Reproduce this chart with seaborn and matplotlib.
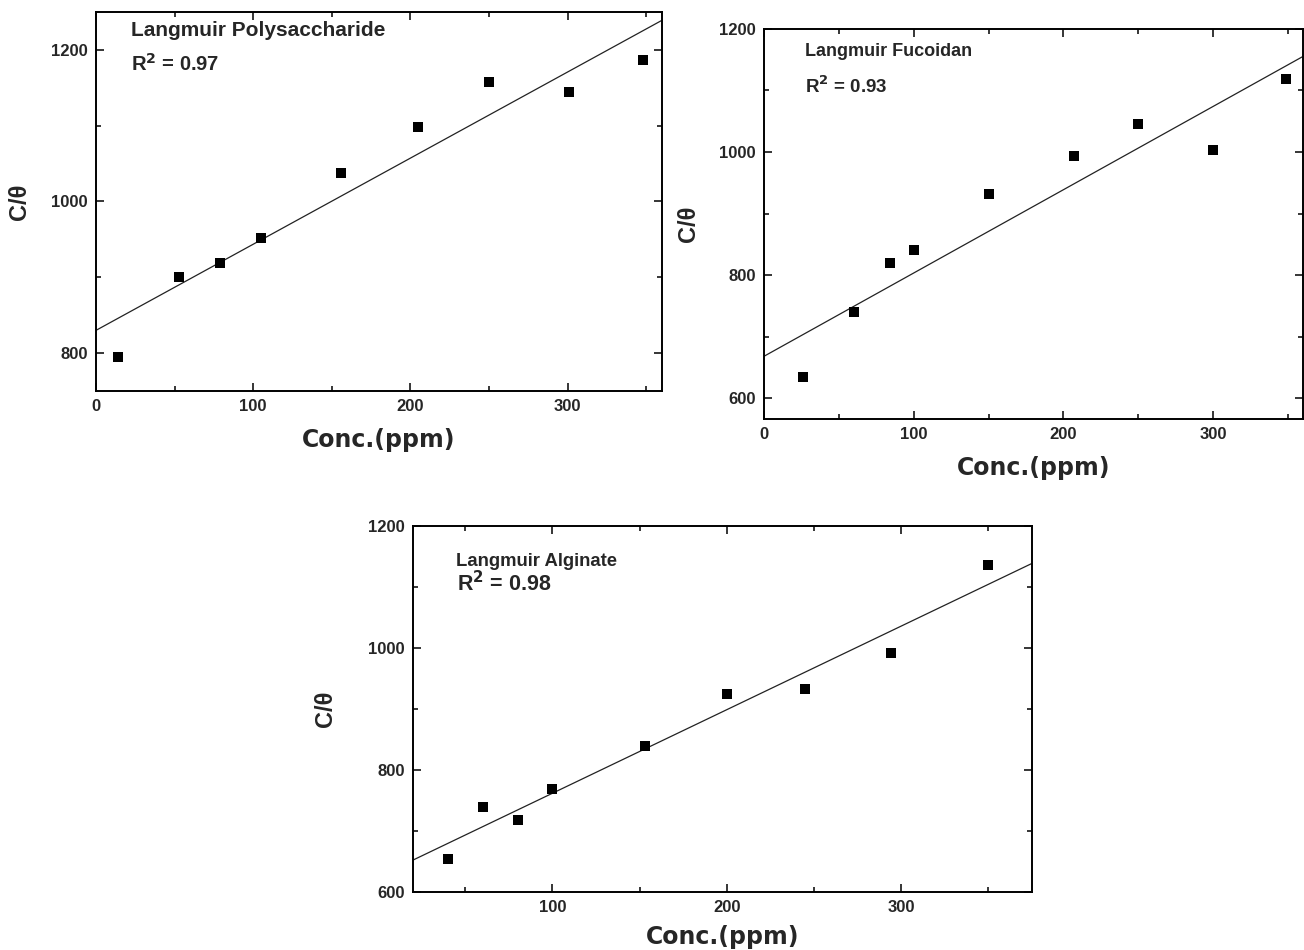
import numpy as np
import pandas as pd
import matplotlib
matplotlib.use("Agg")
import matplotlib.pyplot as plt
from matplotlib.ticker import MultipleLocator
import seaborn as sns

# values
poly_conc = [14, 53, 79, 105, 156, 205, 250, 301, 348]
poly_c_theta = [795, 900, 919, 952, 1038, 1098, 1157, 1145, 1186]

fuc_conc = [26, 60, 84, 100, 150, 207, 250, 300, 349]
fuc_c_theta = [634, 740, 819, 840, 931, 993, 1046, 1003, 1118]

alg_conc = [40, 60, 80, 100, 153, 200, 245, 294, 350]
alg_c_theta = [655, 740, 719, 769, 840, 925, 933, 992, 1136]

titles = ["Langmuir Polysaccharide", "Langmuir Fucoidan", "Langmuir Alginate"]
r2_values = [0.97, 0.93, 0.98]
fit_intercept = [830, 668, 625]
fit_slope = [1.136, 1.353, 1.371]

sns.set_style("ticks")
plt.rcParams['font.family'] = ['Liberation Sans', 'DejaVu Sans']
plt.rcParams['font.weight'] = 'bold'

fig = plt.figure(figsize=(13.04, 9.5), dpi=100)
ax1 = fig.add_axes([0.0736, 0.5884, 0.434, 0.399])
ax2 = fig.add_axes([0.586, 0.559, 0.413, 0.4105])
ax3 = fig.add_axes([0.3167, 0.061, 0.4747, 0.385])

# ax, x, y, xlim, ylim, title pos (x, y), R2 pos (x, y), font sizes, label pads
panels = [
    (ax1, poly_conc, poly_c_theta, (0, 360), (750, 1250), (0.062, 0.952), (0.062, 0.863), 15, 14.5, 10, 14),
    (ax2, fuc_conc, fuc_c_theta, (0, 360), (566, 1200), (0.076, 0.941), (0.076, 0.854), 13, 13.5, 10, 14),
    (ax3, alg_conc, alg_c_theta, (20, 375), (600, 1200), (0.0695, 0.905), (0.071, 0.842), 13.3, 15.5, 7, 22),
]

for i, (ax, x, y, xl, yl, tpos, rpos, tfs, rfs, xpad, ypad) in enumerate(panels):
    df = pd.DataFrame({'conc': x, 'ct': y})
    sns.scatterplot(data=df, x='conc', y='ct', ax=ax, marker='s', s=42,
                    color='black', edgecolor='black', linewidth=0, zorder=3)
    ax.axline((0, fit_intercept[i]), slope=fit_slope[i], color='#222222', lw=0.9)
    ax.set_xlim(*xl)
    ax.set_ylim(*yl)
    ax.xaxis.set_major_locator(MultipleLocator(100))
    ax.xaxis.set_minor_locator(MultipleLocator(50))
    ax.yaxis.set_major_locator(MultipleLocator(200))
    ax.yaxis.set_minor_locator(MultipleLocator(100))
    ax.tick_params(which='both', direction='in', top=True, right=True,
                   labelsize=12, width=1.3, pad=6)
    ax.tick_params(which='major', length=6)
    ax.tick_params(which='minor', length=3.5)
    for lab in ax.get_xticklabels() + ax.get_yticklabels():
        lab.set_fontweight('bold')
    for sp in ax.spines.values():
        sp.set_linewidth(1.4)
        sp.set_color('black')
    ax.set_xlabel("Conc.(ppm)", fontsize=17, fontweight='bold', labelpad=xpad,
                  family=['DejaVu Sans'])
    ax.set_ylabel("C/θ", fontsize=17, fontweight='bold', labelpad=ypad)
    ax.text(tpos[0], tpos[1], titles[i], transform=ax.transAxes, fontsize=tfs,
            fontweight='bold', va='center', ha='left')
    ax.text(rpos[0], rpos[1], r"R$^\mathbf{2}$ = " + f"{r2_values[i]:.2f}", transform=ax.transAxes,
            fontsize=rfs, fontweight='bold', va='center', ha='left')

fig.savefig("out.png", dpi=100)
